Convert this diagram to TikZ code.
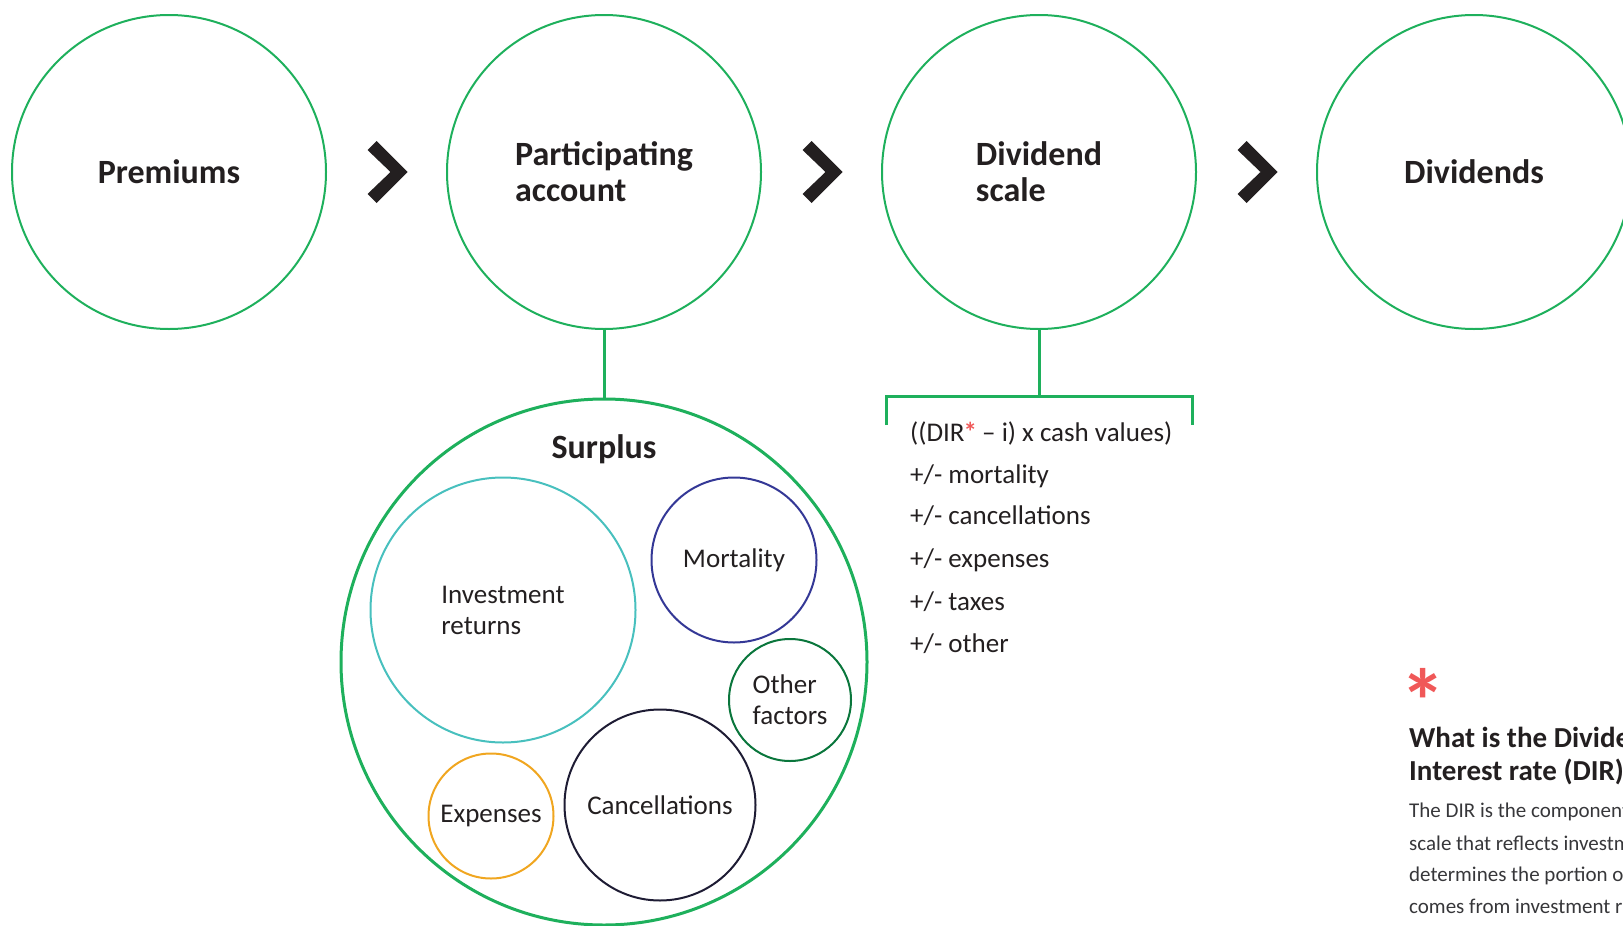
\documentclass[tikz,border=0pt]{standalone}
\usepackage{fontspec}
\setmainfont{Carlito}
\usetikzlibrary{positioning,calc}
\definecolor{accent}{RGB}{30,176,92}
\definecolor{ink}{RGB}{35,31,32}
\definecolor{inkl}{RGB}{55,55,58}
\definecolor{star}{RGB}{240,88,88}
\definecolor{invcol}{RGB}{72,192,190}
\definecolor{mortcol}{RGB}{52,56,150}
\definecolor{othcol}{RGB}{10,118,60}
\definecolor{canccol}{RGB}{30,28,52}
\definecolor{expcol}{RGB}{240,166,32}

\begin{document}
\begin{tikzpicture}[
  x = 1pt,
  y = -1pt,
  stage/.style = {
    draw = accent,
    line width = 2pt,
    circle,
    minimum size = 314pt,
    align = left,
    text = ink,
    font = \fontsize{34}{36}\selectfont\bfseries,
  },
  pool/.style = {
    draw = accent,
    line width = 3pt,
    circle,
    minimum size = 526pt,
  },
  factor/.style = {
    draw,
    line width = 2pt,
    circle,
    inner sep = 0pt,
    align = left,
    text = ink,
    font = \fontsize{27}{31}\selectfont,
  },
  title/.style = {
    anchor = base,
    inner sep = 0pt,
    text = ink,
    font = \fontsize{34}{36}\selectfont\bfseries,
  },
  item/.style = {
    anchor = base west,
    inner sep = 0pt,
    text = ink,
    font = \fontsize{27}{30}\selectfont,
  },
  qhead/.style = {
    anchor = base west,
    inner sep = 0pt,
    text = ink,
    font = \fontsize{29}{33}\selectfont\bfseries,
  },
  qbody/.style = {
    anchor = base west,
    inner sep = 0pt,
    text = inkl,
    font = \fontsize{21}{26}\selectfont,
  },
  link/.style = {
    draw = accent,
    line width = 3pt,
  },
  chevron/.pic = {
    \fill[ink] (-19,-22) -- (-10,-31) -- (21,0) -- (-10,31) -- (-19,22) -- (4,0) -- cycle;
  },
  node distance = 119pt,
]

  \useasboundingbox (0,0) rectangle (1623,926);
  \clip (0,0) rectangle (1623,926);

  \node[stage] (prem) at (169,172) {Premiums};
  \node[stage] (part) [right=of prem] {Participating\\account};
  \node[stage] (dsc) [right=of part] {Dividend\\scale};
  \node[stage] (divs) [right=of dsc] {Dividends};

  \pic at ($(prem)!0.5!(part)$) {chevron};
  \pic at ($(part)!0.5!(dsc)$) {chevron};
  \pic at ($(dsc)!0.5!(divs)$) {chevron};

  % surplus and what it is made of
  \node[pool] (surp) [below=67.5pt of part] {};
  \node[title] (surlab) at (604,458) {Surplus};

  \node[factor, draw=invcol, minimum size=265pt] (inv) at (503,610) {Investment\\returns};
  \node[factor, draw=mortcol, minimum size=165pt] (mort) at (734,560) {Mortality};
  \node[factor, draw=othcol, minimum size=122pt] (oth) at (790,700) {Other\\factors};
  \node[factor, draw=canccol, minimum size=191pt] (canc) at (660,805) {Cancellations};
  \node[factor, draw=expcol, minimum size=125pt] (exp) at (491,816) {Expenses};

  \draw[link] (part) -- (surp);

  % bracket under the dividend scale
  \coordinate (brk) at ($(dsc.south)+(0,66)$);
  \coordinate (brkl) at ($(brk)+(-153,29)$);
  \coordinate (brkr) at ($(brk)+(153,29)$);
  \draw[link] (dsc) -- (brk);
  \draw[link] (brkl) -- (brkl |- brk) -- (brkr |- brk) -- (brkr);

  \node[item] (i0) at (910,441) {((DIR{\color{star}\bfseries\kern-1pt*\kern-1pt} – i) x cash values)};
  \node[item] (i1) at (910,483) {+/- mortality};
  \node[item] (i2) at (910,524) {+/- cancellations};
  \node[item] (i3) at (910,567) {+/- expenses};
  \node[item] (i4) at (910,610) {+/- taxes};
  \node[item] (i5) at (910,652) {+/- other};

  % side note
  \node[anchor=base west, inner sep=0pt, text=star, font=\fontsize{91}{91}\selectfont\bfseries] (ast) at (1400,699) {\raisebox{-0.38em}[0.32em][0pt]{*}};
  \node[qhead] (q0) at (1409,747) {What is the Dividend};
  \node[qhead] (q1) at (1409,780) {Interest rate (DIR)?};
  \node[qbody] (b0) at (1409,817) {The DIR is the component};
  \node[qbody] (b1) at (1409,850) {scale that reflects investment};
  \node[qbody] (b2) at (1409,881) {determines the portion of};
  \node[qbody] (b3) at (1409,913) {comes from investment returns};

\end{tikzpicture}
\end{document}
